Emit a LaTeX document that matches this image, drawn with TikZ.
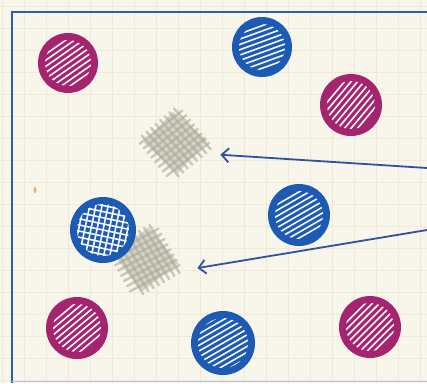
\documentclass[tikz,border=0pt]{standalone}
\usetikzlibrary{arrows.meta}
\definecolor{paper}{HTML}{F8F5EA}
\definecolor{gridc}{HTML}{EFE9D8}
\definecolor{bord}{HTML}{2F5DA8}
\definecolor{mag}{HTML}{A42470}
\definecolor{blu}{HTML}{1D5AB4}
\definecolor{arr}{HTML}{2E529E}
\definecolor{blobc}{HTML}{ABAB9C}
\newcommand\hatchball[5]{% name, position, colour, radius, hatch angle
  \node[ball, minimum size={2*#4}, fill=#3] (#1) at (#2) {};
  \begin{scope}[shift={(#1.center)}, rotate=#5]
    \clip (0,0) circle ({#4-7});
    \foreach \d in {-30,-25,...,30} \draw[hatchline] (-40,\d) -- (40,\d);
  \end{scope}}
\newcommand\crossball[5]{% name, position, colour, radius, hatch angle
  \node[ball, minimum size={2*#4}, fill=#3] (#1) at (#2) {};
  \begin{scope}[shift={(#1.center)}, rotate=#5]
    \clip (0,0) circle ({#4-7});
    \foreach \d in {-30,-24,...,30} {\draw[hatchline] (-40,\d) -- (40,\d);
      \draw[hatchline] (\d,-40) -- (\d,40);}
  \end{scope}}
\newcommand\greyblob[3]{% name, rotation, half size
  \begin{scope}[shift={(#1.center)}, rotate=#2]
    \fill[blobc, opacity=0.45] (-#3,-#3+5) -- (#3-8,-#3) -- (#3,#3-6) -- (-#3+6,#3) -- cycle;
    \foreach \d in {-22,-16,...,22} {
      \draw[blobline] (-#3-4,\d) -- (#3,\d+2);
      \draw[blobline] (\d,-#3-2) -- (\d+2,#3+3);}
  \end{scope}}
\begin{document}
\begin{tikzpicture}[x=1pt,y=-1pt,
  ball/.style={circle, inner sep=0pt, draw=none},
  hatchline/.style={white, line width=1.6pt, opacity=0.95},
  blobline/.style={blobc, line width=2.4pt, opacity=0.6, line cap=round},
  blobnode/.style={circle, inner sep=0pt, draw=none},
  arrowline/.style={arr, line width=1.8pt, -{Straight Barb[length=7pt,width=14pt,line width=1.8pt]}}]
\useasboundingbox (0,0) rectangle (427,383);
\fill[paper] (0,0) rectangle (427,383);
\foreach \x in {2,24,...,427} \draw[gridc, line width=0.6pt] (\x,0) -- (\x,383);
\foreach \y in {6,28,...,383} \draw[gridc, line width=0.6pt] (0,\y) -- (427,\y);
% frame
\draw[bord, line width=2.2pt] (427,12) -- (12,12) -- (12,383);
\draw[bord!35, line width=1pt] (12,381) -- (427,381);
% speck
\fill[brown!60] (35,190) ellipse (1.5 and 3);
% grey blobs
\node[blobnode, minimum size=92] (gA) at (176,142) {};
\node[blobnode, minimum size=104] (gB) at (146,259) {};
\greyblob{gA}{40}{25}
\greyblob{gB}{30}{26}
% balls
\hatchball{m1}{68,63}{mag}{30}{35}
\hatchball{b1}{262,47}{blu}{30}{20}
\hatchball{m2}{351,105}{mag}{31}{50}
\hatchball{b2}{299,215}{blu}{31}{30}
\crossball{b3}{103,230}{blu}{33}{-12}
\hatchball{m3}{77,328}{mag}{31}{40}
\hatchball{b4}{223,343}{blu}{32}{30}
\hatchball{m4}{370,327}{mag}{31}{45}
% arrows
\coordinate (s1) at (427,168);
\coordinate (s2) at (427,230);
\draw[arrowline] (s1) -- (gA.-16);
\draw[arrowline] (s2) -- (gB.-10);
\end{tikzpicture}
\end{document}
